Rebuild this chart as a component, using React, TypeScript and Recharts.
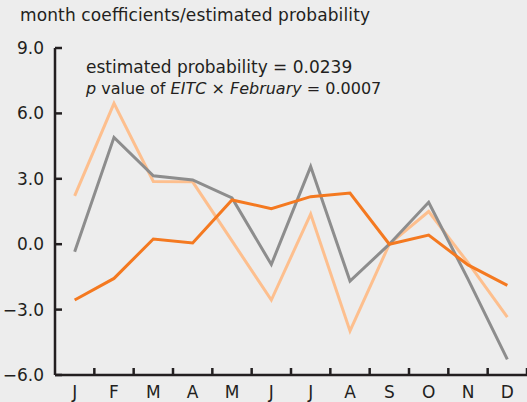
import React from "react";
import { LineChart, Line, XAxis, YAxis } from "recharts";

const months = ["J", "F", "M", "A", "M", "J", "J", "A", "S", "O", "N", "D"];
const darkOrange = [-2.56, -1.57, 0.24, 0.06, 2.03, 1.63, 2.18, 2.35, 0.0, 0.42, -0.95, -1.89];
const lightOrange = [2.22, 6.46, 2.88, 2.86, 0.15, -2.56, 1.38, -3.98, 0.0, 1.5, -0.85, -3.34];
const gray = [-0.35, 4.9, 3.14, 2.95, 2.12, -0.93, 3.56, -1.69, 0.0, 1.92, -1.6, -5.28];
const yTicks = [-6, -3, 0, 3, 6, 9];

const data = months.map((m, i) => ({
    key: i,
    month: m,
    dark: darkOrange[i],
    light: lightOrange[i],
    gray: gray[i]
}));

const W = 527;
const H = 402;
const LEFT = 55;
const BOTTOM = 375;
const HALF_BAND = (W - LEFT) / 12 / 2;
const INK = "#231f20";
const FONT = "DejaVu Sans";

const fmt = (v: number) => (v < 0 ? "\u2212" + Math.abs(v).toFixed(1) : v.toFixed(1));

const YTick = (props: any) => {
    const { y, payload } = props;
    return (
        <g>
            <line x1={LEFT} x2={LEFT + 7} y1={y} y2={y} stroke={INK} strokeWidth={2.5} />
            <text x={44} y={y} textAnchor="end" dominantBaseline="central" fontFamily={FONT} fontSize={17} fill={INK}>
                {fmt(payload.value)}
            </text>
        </g>
    );
};

const XTick = (props: any) => {
    const { x, payload } = props;
    return (
        <g>
            <line x1={x + HALF_BAND} x2={x + HALF_BAND} y1={BOTTOM} y2={BOTTOM - 7} stroke={INK} strokeWidth={2.5} />
            <text x={x} y={398} textAnchor="middle" fontFamily={FONT} fontSize={17} fill={INK}>
                {months[payload.value]}
            </text>
        </g>
    );
};

export default function App() {
    return (
        <div style={{ position: "absolute", left: 0, top: 0, width: W, height: H, background: "#ededed" }}>
            <LineChart width={W} height={H} data={data} margin={{ top: 48, right: 0, bottom: 0, left: 0 }}>
                <XAxis
                    dataKey="key"
                    scale="band"
                    height={H - BOTTOM}
                    tick={<XTick />}
                    tickLine={false}
                    axisLine={{ stroke: INK, strokeWidth: 2.5 }}
                    interval={0}
                />
                <YAxis
                    width={LEFT}
                    domain={[-6, 9]}
                    ticks={yTicks}
                    tick={<YTick />}
                    tickLine={false}
                    axisLine={{ stroke: INK, strokeWidth: 2.5 }}
                    interval={0}
                />
                <Line type="linear" dataKey="light" stroke="#fdbf8e" strokeWidth={3} dot={false} isAnimationActive={false} />
                <Line type="linear" dataKey="gray" stroke="#8d8d8d" strokeWidth={3} dot={false} isAnimationActive={false} />
                <Line type="linear" dataKey="dark" stroke="#f47920" strokeWidth={3} dot={false} isAnimationActive={false} />
            </LineChart>
            <svg width={W} height={H} style={{ position: "absolute", left: 0, top: 0, pointerEvents: "none" }}>
                <g fontFamily={FONT} fontSize={17} fill={INK}>
                    <text x={20} y={21} textLength={350} lengthAdjust="spacing">
                        month coefficients/estimated probability
                    </text>
                    <text x={86} y={73}>estimated probability = 0.0239</text>
                    <text x={86} y={94} fontSize={16}>
                        <tspan fontStyle="italic">p</tspan> value of <tspan fontStyle="italic">EITC</tspan> ×{" "}
                        <tspan fontStyle="italic">February</tspan> = 0.0007
                    </text>
                </g>
            </svg>
        </div>
    );
}
